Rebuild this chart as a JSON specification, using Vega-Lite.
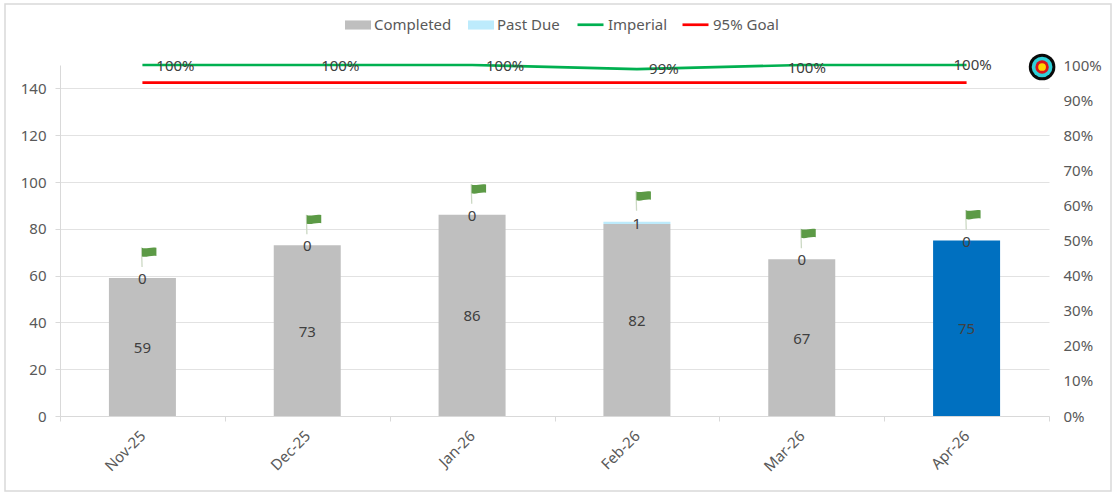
{"$schema":"https://vega.github.io/schema/vega-lite/v6.json","width":989,"height":351,"autosize":{"type":"none"},"padding":{"left":60,"top":65,"right":68,"bottom":78},"background":"#FFFFFF","config":{"view":{"stroke":null},"font":"Noto Sans","text":{"font":"Noto Sans"}},
"datasets":{"tasks":[{"month":"Nov-25","status":"Completed","value":59},{"month":"Nov-25","status":"Past Due","value":0},{"month":"Dec-25","status":"Completed","value":73},{"month":"Dec-25","status":"Past Due","value":0},{"month":"Jan-26","status":"Completed","value":86},{"month":"Jan-26","status":"Past Due","value":0},{"month":"Feb-26","status":"Completed","value":82},{"month":"Feb-26","status":"Past Due","value":1},{"month":"Mar-26","status":"Completed","value":67},{"month":"Mar-26","status":"Past Due","value":0},{"month":"Apr-26","status":"Completed","value":75},{"month":"Apr-26","status":"Past Due","value":0}],
"rates":[{"month":"Nov-25","series":"Imperial","rate":1},{"month":"Dec-25","series":"Imperial","rate":1},{"month":"Jan-26","series":"Imperial","rate":1},{"month":"Feb-26","series":"Imperial","rate":0.988},{"month":"Mar-26","series":"Imperial","rate":1},{"month":"Apr-26","series":"Imperial","rate":1},{"month":"Nov-25","series":"95% Goal","rate":0.95},{"month":"Dec-25","series":"95% Goal","rate":0.95},{"month":"Jan-26","series":"95% Goal","rate":0.95},{"month":"Feb-26","series":"95% Goal","rate":0.95},{"month":"Mar-26","series":"95% Goal","rate":0.95},{"month":"Apr-26","series":"95% Goal","rate":0.95}],
"target":[{"month":"Apr-26","rate":1}]},
"resolve":{"scale":{"x":"independent","y":"independent"}},
"layer":[
{"data":{"values":[{"frame":"chart"}]},"mark":{"type":"rect","fill":null,"stroke":"#D9D9D9","strokeWidth":1.5,"clip":false},"encoding":{"x":{"datum":0,"type":"quantitative","scale":{"domain":[0,1],"range":[-55,1051],"nice":false},"axis":null},"x2":{"datum":1},"y":{"datum":0,"type":"quantitative","scale":{"domain":[0,1],"range":[426,-61],"nice":false},"axis":null},"y2":{"datum":1}}},
{"resolve":{"scale":{"y":"independent"}},"encoding":{"x":{"field":"month","type":"nominal","sort":null,"scale":{"domain":["Nov-25","Dec-25","Jan-26","Feb-26","Mar-26","Apr-26"],"paddingInner":0,"paddingOuter":0},"axis":{"title":null,"tickBand":"extent","tickColor":"#D9D9D9","tickSize":5,"domainColor":"#D9D9D9","labelAngle":-45,"labelAlign":"right","labelBaseline":"middle","labelFont":"Noto Sans","labelFontSize":15,"labelColor":"#595959","labelPadding":12}}},
"layer":[
{"data":{"name":"tasks"},"layer":[
{"mark":{"type":"bar","size":67},"encoding":{"y":{"field":"value","type":"quantitative","stack":"zero","scale":{"domain":[0,150],"nice":false},"axis":{"title":null,"values":[0,20,40,60,80,100,120,140],"orient":"left","grid":true,"gridColor":"#E2E2E2","tickColor":"#D9D9D9","tickSize":5,"domainColor":"#D9D9D9","labelFont":"Noto Sans","labelFontSize":15,"labelColor":"#595959","labelPadding":9}},"order":{"field":"status","sort":"ascending"},"fill":{"condition":{"test":"datum.month==='Apr-26'","value":"#0070C0"},"field":"status","type":"nominal","scale":{"domain":["Completed","Past Due"],"range":["#BFBFBF","#BDEBFC"]},"legend":{"title":null,"orient":"none","legendX":285,"legendY":-53,"direction":"horizontal","columns":2,"columnPadding":16,"symbolType":"M-1,-0.35H1V0.35H-1Z","symbolSize":676,"symbolStrokeWidth":0,"labelFont":"Noto Sans","labelFontSize":15,"labelColor":"#595959","labelOffset":3,"padding":0}}}},
{"mark":{"type":"text","font":"Noto Sans","fontSize":15,"fill":"#404040","dy":1},"encoding":{"y":{"field":"value","type":"quantitative","stack":"zero","bandPosition":0.5},"detail":{"field":"status"},"order":{"field":"status","sort":"ascending"},"text":{"field":"value","type":"quantitative"}}},
{"mark":{"type":"point","filled":true,"size":400,"opacity":1,"stroke":null,"fill":"#CBD8C3","shape":"M-0.15,-3.05L-0.03,-3.05L0.03,-1.1L-0.1,-1.1Z"},"encoding":{"y":{"aggregate":"sum","field":"value","type":"quantitative","stack":null}}},
{"mark":{"type":"point","filled":true,"size":400,"opacity":1,"stroke":null,"fill":"#5C9A46","shape":"M-0.05,-3.02C0.3,-2.85,0.9,-3.15,1.4,-3.02L1.4,-2.2C0.9,-2.3,0.3,-2,-0.05,-2.15Z"},"encoding":{"y":{"aggregate":"sum","field":"value","type":"quantitative","stack":null}}}
]},
{"layer":[
{"data":{"name":"rates"},"mark":{"type":"line","strokeWidth":2.7,"clip":false},"encoding":{"y":{"field":"rate","type":"quantitative","scale":{"domain":[0,1],"nice":false},"axis":{"title":null,"orient":"right","format":".0%","tickCount":11,"values":[0,0.1,0.2,0.3,0.4,0.5,0.6,0.7,0.8,0.9,1],"labelOverlap":false,"grid":false,"domain":false,"ticks":false,"labelFont":"Noto Sans","labelFontSize":15,"labelColor":"#595959","labelPadding":14}},"stroke":{"field":"series","type":"nominal","scale":{"domain":["Imperial","95% Goal"],"range":["#00B050","#FF0000"]},"legend":{"title":null,"orient":"none","legendX":516,"legendY":-55,"direction":"horizontal","columns":2,"columnPadding":9,"symbolType":"stroke","symbolSize":676,"symbolStrokeWidth":2.7,"labelFont":"Noto Sans","labelFontSize":15,"labelColor":"#595959","labelOffset":3,"padding":0}}}},
{"data":{"name":"rates"},"transform":[{"filter":"datum.series==='Imperial' && indexof(['Nov-25','Dec-25','Jan-26'],datum.month)>=0"}],"mark":{"type":"text","font":"Noto Sans","fontSize":15,"fill":"#404040","dx":33,"dy":1},"encoding":{"y":{"field":"rate","type":"quantitative"},"text":{"field":"rate","type":"quantitative","format":".0%"}}},
{"data":{"name":"rates"},"transform":[{"filter":"datum.series==='Imperial' && datum.month==='Feb-26'"}],"mark":{"type":"text","font":"Noto Sans","fontSize":15,"fill":"#404040","dx":27},"encoding":{"y":{"field":"rate","type":"quantitative"},"text":{"field":"rate","type":"quantitative","format":".0%"}}},
{"data":{"name":"rates"},"transform":[{"filter":"datum.series==='Imperial' && datum.month==='Mar-26'"}],"mark":{"type":"text","font":"Noto Sans","fontSize":15,"fill":"#404040","dx":5,"dy":3},"encoding":{"y":{"field":"rate","type":"quantitative"},"text":{"field":"rate","type":"quantitative","format":".0%"}}},
{"data":{"name":"rates"},"transform":[{"filter":"datum.series==='Imperial' && datum.month==='Apr-26'"}],"mark":{"type":"text","font":"Noto Sans","fontSize":15,"fill":"#404040","dx":6},"encoding":{"y":{"field":"rate","type":"quantitative"},"text":{"field":"rate","type":"quantitative","format":".0%"}}},
{"data":{"name":"target"},"mark":{"type":"point","filled":true,"opacity":1,"size":707,"fill":"#0A0A0A","stroke":null,"xOffset":75.5,"yOffset":2},"encoding":{"y":{"field":"rate","type":"quantitative"}}},
{"data":{"name":"target"},"mark":{"type":"point","filled":true,"opacity":1,"size":430,"fill":"#2FD0D8","stroke":null,"xOffset":75.5,"yOffset":2},"encoding":{"y":{"field":"rate","type":"quantitative"}}},
{"data":{"name":"target"},"mark":{"type":"point","filled":true,"opacity":1,"size":180,"fill":"#D7141A","stroke":null,"xOffset":75.5,"yOffset":2},"encoding":{"y":{"field":"rate","type":"quantitative"}}},
{"data":{"name":"target"},"mark":{"type":"point","filled":true,"opacity":1,"size":60,"fill":"#FFD400","stroke":null,"xOffset":75.5,"yOffset":2},"encoding":{"y":{"field":"rate","type":"quantitative"}}}
]}
]}
]}
